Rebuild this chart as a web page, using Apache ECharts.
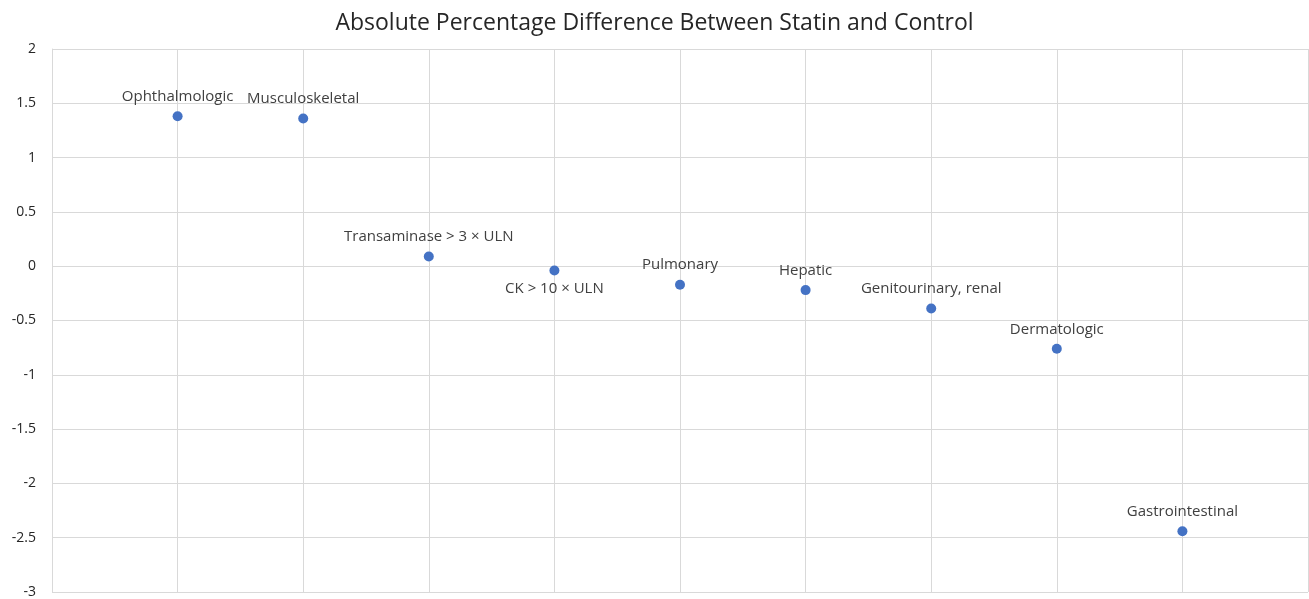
<!DOCTYPE html>
<html>
<head>
<meta charset="utf-8">
<style>
  html, body { margin: 0; padding: 0; background: #fff; }
  #chart { width: 1309px; height: 599px; }
</style>
<script src="https://cdn.jsdelivr.net/npm/echarts@6/dist/echarts.min.js"></script>
</head>
<body>
<div id="chart"></div>
<script>
// Adverse-event categories, in plotting order along the horizontal axis
const categories = [
  'Ophthalmologic',
  'Musculoskeletal',
  'Transaminase > 3 \u00d7 ULN',
  'CK > 10 \u00d7 ULN',
  'Pulmonary',
  'Hepatic',
  'Genitourinary, renal',
  'Dermatologic',
  'Gastrointestinal'
];
// Horizontal position of each category
const xPositions = [1, 2, 3, 4, 5, 6, 7, 8, 9];
// Absolute percentage difference (statin minus control)
const differences = [1.38, 1.36, 0.09, -0.04, -0.17, -0.22, -0.39, -0.76, -2.44];
// Categories whose label sits under the point
const labelsBelow = ['CK > 10 \u00d7 ULN'];

const yTicks = { min: -3, max: 2, interval: 0.5 };

const points = categories.map((name, i) => ({
  name: name,
  value: [xPositions[i], differences[i]],
  label: labelsBelow.includes(name)
    ? { position: 'bottom', distance: 6 }
    : { position: 'top', distance: 7 }
}));

const chart = echarts.init(document.getElementById('chart'));
chart.setOption({
  animation: false,
  textStyle: { fontFamily: '"Open Sans", "Noto Sans", sans-serif' },
  title: {
    text: 'Absolute Percentage Difference Between Statin and Control',
    left: 'center',
    top: 7,
    textStyle: {
      fontSize: 23,
      fontWeight: 'normal',
      color: '#262626',
      fontFamily: '"Open Sans", "Noto Sans", sans-serif'
    }
  },
  grid: { left: 52, right: 1, top: 49, bottom: 6, containLabel: false },
  xAxis: {
    type: 'value',
    min: 0,
    max: 10,
    interval: 1,
    axisLine: { show: false },
    axisTick: { show: false },
    axisLabel: { show: false },
    splitLine: { show: true, lineStyle: { color: '#d9d9d9', width: 1 } }
  },
  yAxis: {
    type: 'value',
    min: yTicks.min,
    max: yTicks.max,
    interval: yTicks.interval,
    axisLine: { show: true, lineStyle: { color: '#d9d9d9' } },
    axisTick: { show: false },
    axisLabel: {
      color: '#262626',
      fontSize: 14,
      margin: 16,
      fontFamily: '"Open Sans", "Noto Sans", sans-serif'
    },
    splitLine: { show: true, lineStyle: { color: '#d9d9d9', width: 1 } }
  },
  series: [{
    type: 'scatter',
    data: points,
    symbol: 'circle',
    symbolSize: 10,
    itemStyle: { color: '#4472c4', opacity: 1 },
    label: {
      show: true,
      formatter: '{b}',
      color: '#404040',
      fontSize: 15,
      fontFamily: '"Open Sans", "Noto Sans", sans-serif'
    }
  }]
});
</script>
</body>
</html>
